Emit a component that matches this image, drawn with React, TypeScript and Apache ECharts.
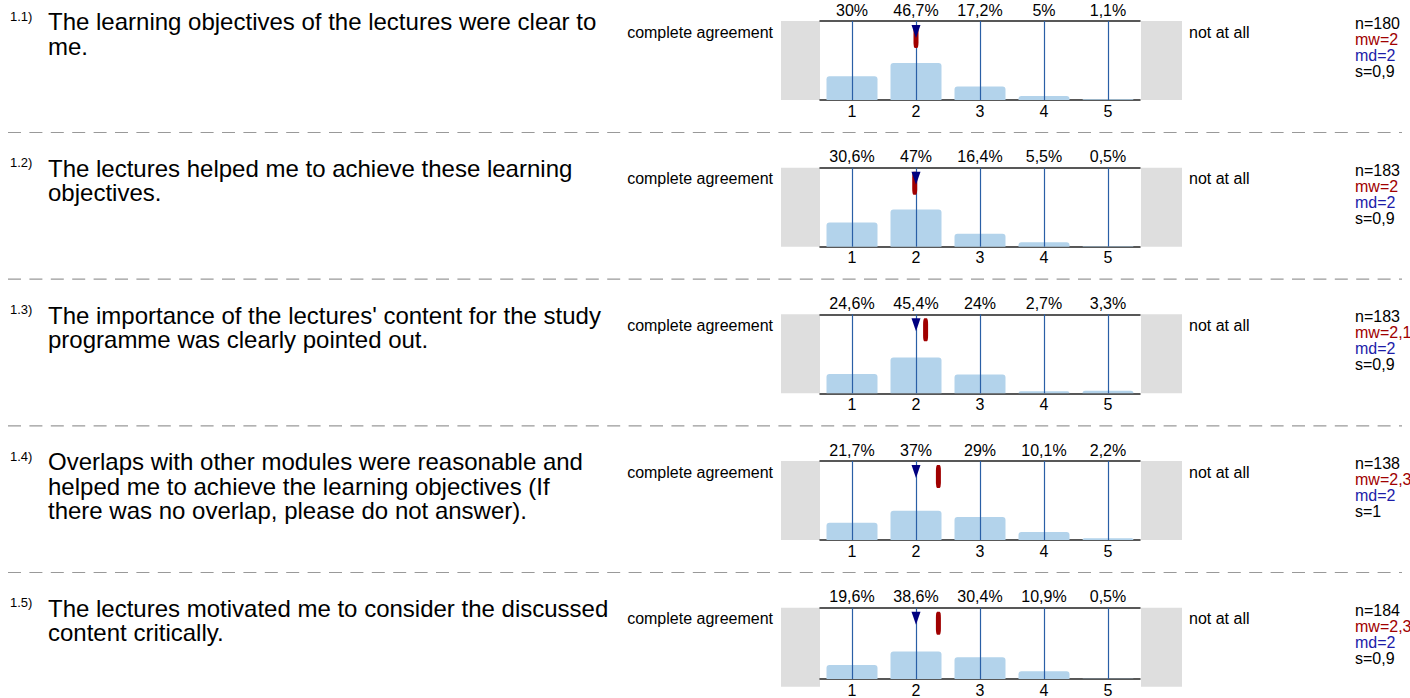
import React, { useEffect, useRef } from "react";
import * as echarts from "echarts";

const categories = ["1", "2", "3", "4", "5"];
const questionNumbers = ["1.1)", "1.2)", "1.3)", "1.4)", "1.5)"];
const questions = [
  "The learning objectives of the lectures were clear to\nme.",
  "The lectures helped me to achieve these learning\nobjectives.",
  "The importance of the lectures' content for the study\nprogramme was clearly pointed out.",
  "Overlaps with other modules were reasonable and\nhelped me to achieve the learning objectives (If\nthere was no overlap, please do not answer).",
  "The lectures motivated me to consider the discussed\ncontent critically.",
];
const pct1 = [30, 46.7, 17.2, 5, 1.1];
const pct2 = [30.6, 47, 16.4, 5.5, 0.5];
const pct3 = [24.6, 45.4, 24, 2.7, 3.3];
const pct4 = [21.7, 37, 29, 10.1, 2.2];
const pct5 = [19.6, 38.6, 30.4, 10.9, 0.5];
const percentages = [pct1, pct2, pct3, pct4, pct5];
const nValues = [180, 183, 183, 138, 184];
const meanLabels = ["2", "2", "2,1", "2,3", "2,3"];
const meanPositions = [2.0, 1.98, 2.15, 2.35, 2.35];
const medians = [2, 2, 2, 2, 2];
const stdLabels = ["0,9", "0,9", "0,9", "1", "0,9"];
const leftLabel = "complete agreement";
const rightLabel = "not at all";

const FONT = "'Liberation Sans', Arial, Helvetica, sans-serif";

function fmtPct(v: number) {
  return String(v).replace(".", ",") + "%";
}

export default function App() {
  const ref = useRef<HTMLDivElement>(null);

  useEffect(() => {
    if (!ref.current) return;
    const chart = echarts.init(ref.current, undefined, { renderer: "svg" });

    const rowTop = (i: number) => 21 + i * 146.67;
    const grids: any[] = [];
    const xAxes: any[] = [];
    const yAxes: any[] = [];
    const series: any[] = [];
    const graphics: any[] = [];

    for (let i = 0; i < 5; i++) {
      const T = rowTop(i);
      grids.push({ left: 820, width: 320, top: T, height: 79 });
      xAxes.push({
        type: "category",
        gridIndex: i,
        position: "bottom",
        data: categories,
        axisLine: { show: true, lineStyle: { color: "#222", width: 1.5 } },
        axisTick: { show: false },
        axisLabel: { color: "#000", fontSize: 16, fontFamily: FONT, margin: 3 },
        splitLine: { show: false },
      });
      xAxes.push({
        type: "category",
        gridIndex: i,
        position: "top",
        data: percentages[i].map(fmtPct),
        axisLine: { show: true, lineStyle: { color: "#222", width: 1.5 } },
        axisTick: { show: false },
        axisLabel: { color: "#000", fontSize: 16, fontFamily: FONT, margin: 3, interval: 0 },
        splitLine: { show: false },
      });
      xAxes.push({
        type: "value",
        gridIndex: i,
        min: 0.5,
        max: 5.5,
        show: false,
      });
      yAxes.push({ type: "value", gridIndex: i, min: 0, max: 100, show: false });

      const xb = i * 3;
      const xv = i * 3 + 2;
      series.push({
        type: "bar",
        xAxisIndex: xb,
        yAxisIndex: i,
        data: percentages[i],
        barWidth: 51,
        itemStyle: { color: "#b3d3eb", borderRadius: [3, 3, 0, 0] },
        z: 1,
        silent: true,
      });
      series.push({
        type: "scatter",
        xAxisIndex: xv,
        yAxisIndex: i,
        data: [[meanPositions[i], 100]],
        symbol: "roundRect",
        symbolSize: [5, 23],
        symbolOffset: [0, 15.5],
        itemStyle: { color: "#a00000", opacity: 1 },
        z: 3,
        silent: true,
        markLine: {
          silent: true,
          symbol: ["none", "none"],
          label: { show: false },
          lineStyle: { color: "#2a5fa6", width: 1.2, type: "solid", opacity: 1 },
          data: categories.map((c) => ({ xAxis: Number(c) })),
          z: 2,
        },
      });
      series.push({
        type: "scatter",
        xAxisIndex: xv,
        yAxisIndex: i,
        data: [[medians[i], 100]],
        symbol: "path://M0,0L10,0L5,14Z",
        symbolSize: [9, 13],
        symbolOffset: [0, 10.5],
        itemStyle: { color: "#000080", opacity: 1 },
        z: 4,
        silent: true,
      });

      graphics.push({
        type: "rect",
        shape: { x: 781, y: T, width: 39, height: 79 },
        style: { fill: "#dedede" },
        z: 0,
      });
      graphics.push({
        type: "rect",
        shape: { x: 1141, y: T, width: 41, height: 79 },
        style: { fill: "#dedede" },
        z: 0,
      });
      graphics.push({
        type: "text",
        x: 773,
        y: T + 11,
        style: {
          text: leftLabel,
          fill: "#000",
          font: `16px ${FONT}`,
          textAlign: "right",
          textVerticalAlign: "middle",
        },
      });
      graphics.push({
        type: "text",
        x: 1189,
        y: T + 11,
        style: {
          text: rightLabel,
          fill: "#000",
          font: `16px ${FONT}`,
          textAlign: "left",
          textVerticalAlign: "middle",
        },
      });
      const stats = [
        { t: `n=${nValues[i]}`, c: "#000" },
        { t: `mw=${meanLabels[i]}`, c: "#a00000" },
        { t: `md=${medians[i]}`, c: "#1c1ca8" },
        { t: `s=${stdLabels[i]}`, c: "#000" },
      ];
      stats.forEach((s, k) => {
        graphics.push({
          type: "text",
          x: 1355,
          y: T + 2.5 + k * 16,
          style: {
            text: s.t,
            fill: s.c,
            font: `16px ${FONT}`,
            textAlign: "left",
            textVerticalAlign: "middle",
          },
        });
      });
      graphics.push({
        type: "text",
        x: 10,
        y: T - 5,
        style: {
          text: questionNumbers[i],
          fill: "#000",
          font: `13px ${FONT}`,
          textAlign: "left",
          textVerticalAlign: "middle",
        },
      });
      graphics.push({
        type: "text",
        x: 48,
        y: T - 11.5,
        style: {
          text: questions[i],
          fill: "#000",
          font: `24px ${FONT}`,
          lineHeight: 24.5,
          textAlign: "left",
          textVerticalAlign: "top",
        },
      });
      if (i < 4) {
        graphics.push({
          type: "line",
          shape: { x1: 8, y1: T + 111.5, x2: 1402, y2: T + 111.5 },
          style: { stroke: "#999", lineWidth: 1.2, lineDash: [13, 8.4] },
        });
      }
    }

    chart.setOption({
      animation: false,
      backgroundColor: "#fff",
      textStyle: { fontFamily: FONT },
      grid: grids,
      xAxis: xAxes,
      yAxis: yAxes,
      series,
      graphic: graphics,
    });

    return () => chart.dispose();
  }, []);

  return (
    <div
      ref={ref}
      style={{ position: "fixed", left: 0, top: 0, width: 1410, height: 698 }}
    />
  );
}
